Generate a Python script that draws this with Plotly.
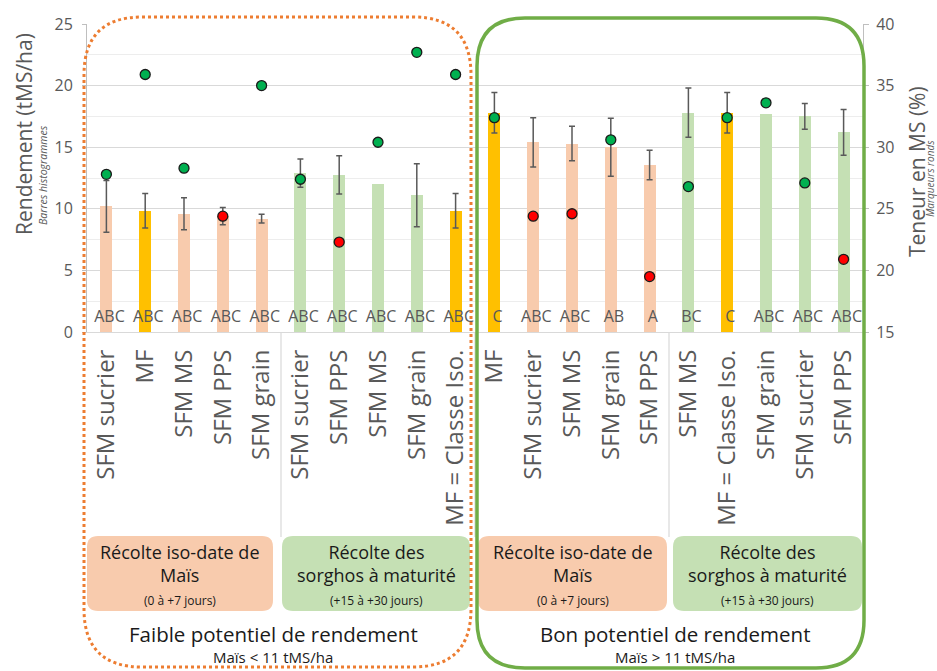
import plotly.graph_objects as go

# ---------------- data ----------------
categories = ["SFM sucrier", "MF", "SFM MS", "SFM PPS", "SFM grain",
              "SFM sucrier", "SFM PPS", "SFM MS", "SFM grain", "MF = Classe Iso.",
              "MF", "SFM sucrier", "SFM MS", "SFM grain", "SFM PPS",
              "SFM MS", "MF = Classe Iso.", "SFM grain", "SFM sucrier", "SFM PPS"]
harvest = ["iso"] * 5 + ["maturite"] * 5 + ["iso"] * 5 + ["maturite"] * 5
rendement = [10.2, 9.85, 9.6, 9.4, 9.2, 12.9, 12.75, 12.0, 11.1, 9.85,
             17.8, 15.4, 15.3, 15.0, 13.55, 17.8, 17.8, 17.7, 17.5, 16.2]
rendement_err = [2.1, 1.4, 1.3, 0.7, 0.35, 1.15, 1.55, None, 2.55, 1.4,
                 1.65, 2.0, 1.4, 2.35, 1.2, 2.0, 1.65, None, 1.05, 1.85]
teneur_ms = [27.8, 35.9, 28.3, 24.4, 35.0, 27.4, 22.3, 30.4, 37.7, 35.9,
             32.4, 24.4, 24.6, 30.6, 19.5, 26.8, 32.4, 33.6, 27.1, 20.9]
ms_rouge = [False, False, False, True, False, False, True, False, False, False,
            False, True, True, False, True, False, False, False, False, True]
lettres = ["ABC"] * 10 + ["C", "ABC", "ABC", "AB", "A", "BC", "C", "ABC", "ABC", "ABC"]

box_titles = ["Récolte iso-date de<br>Maïs", "Récolte des<br>sorghos à maturité"]
box_subs = ["(0 à +7 jours)", "(+15 à +30 jours)"]
potentiel = ["Faible potentiel de rendement", "Bon potentiel de rendement"]
potentiel_sub = ["Maïs < 11 tMS/ha", "Maïs > 11 tMS/ha"]

# ---------------- styles ----------------
FONT = "Open Sans"
GREY = "#595959"
DARK = "#1A1A1A"
C_PEACH = "#F8CBAD"
C_GOLD = "#FFC000"
C_GREEN = "#C5E0B4"

W, H = 937, 671
L, R, T, B = 87, 863, 24, 332


def px(x):
    return (x - L) / (R - L)


def py(y):
    return (B - y) / (B - T)


def rrect(x0, y0, x1, y1, r):
    pts = [f"M {px(x0 + r)},{py(y0)}",
           f"L {px(x1 - r)},{py(y0)}",
           f"Q {px(x1)},{py(y0)} {px(x1)},{py(y0 + r)}",
           f"L {px(x1)},{py(y1 - r)}",
           f"Q {px(x1)},{py(y1)} {px(x1 - r)},{py(y1)}",
           f"L {px(x0 + r)},{py(y1)}",
           f"Q {px(x0)},{py(y1)} {px(x0)},{py(y1 - r)}",
           f"L {px(x0)},{py(y0 + r)}",
           f"Q {px(x0)},{py(y0)} {px(x0 + r)},{py(y0)} Z"]
    return " ".join(pts)


xs = list(range(len(categories)))
bar_colors = []
for c, h in zip(categories, harvest):
    if c.startswith("MF"):
        bar_colors.append(C_GOLD)
    elif h == "iso":
        bar_colors.append(C_PEACH)
    else:
        bar_colors.append(C_GREEN)

fig = go.Figure()
fig.add_trace(go.Bar(
    x=xs, y=rendement, width=0.31, marker=dict(color=bar_colors, line=dict(width=0)),
    yaxis="y", showlegend=False, hoverinfo="skip"))

# error bars only where a value exists
ex = [x for x, e in zip(xs, rendement_err) if e is not None]
ey = [v for v, e in zip(rendement, rendement_err) if e is not None]
ee = [e for e in rendement_err if e is not None]
fig.add_trace(go.Scatter(
    x=ex, y=ey, mode="markers", marker=dict(size=1, opacity=0),
    error_y=dict(type="data", array=ee, symmetric=True, color=GREY, thickness=1.5, width=3),
    yaxis="y", showlegend=False, hoverinfo="skip"))

fig.add_trace(go.Scatter(
    x=[x + 0.08 for x in xs], y=[1.15] * len(xs), mode="text", text=lettres,
    textfont=dict(family=FONT, size=16, color=GREY), yaxis="y",
    showlegend=False, hoverinfo="skip"))

gx = [x for x, r in zip(xs, ms_rouge) if not r]
gy = [v for v, r in zip(teneur_ms, ms_rouge) if not r]
rx = [x for x, r in zip(xs, ms_rouge) if r]
ry = [v for v, r in zip(teneur_ms, ms_rouge) if r]
fig.add_trace(go.Scatter(x=gx, y=gy, mode="markers", yaxis="y2",
                         marker=dict(color="#00B050", size=10, line=dict(color=DARK, width=1.3)),
                         showlegend=False))
fig.add_trace(go.Scatter(x=rx, y=ry, mode="markers", yaxis="y2",
                         marker=dict(color="#FF0000", size=10, line=dict(color=DARK, width=1.3)),
                         showlegend=False))

shapes = []
for sx in [4.5, 9.5, 14.5]:
    shapes.append(dict(type="line", xref="x", yref="paper", x0=sx, x1=sx,
                       y0=0, y1=py(537), line=dict(color="#D9D9D9", width=1.2), layer="below"))
box_specs = [(87, 273, C_PEACH), (282, 470, C_GREEN), (478, 667, C_PEACH), (673, 862, C_GREEN)]
for x0, x1, col in box_specs:
    shapes.append(dict(type="path", xref="paper", yref="paper", path=rrect(x0, 536, x1, 611, 11),
                       fillcolor=col, line=dict(width=0), layer="below"))
shapes.append(dict(type="path", xref="paper", yref="paper", path=rrect(84, 17, 471, 667, 58),
                   line=dict(color="#ED7D31", width=3, dash="dot"), layer="above"))
shapes.append(dict(type="path", xref="paper", yref="paper", path=rrect(477, 18, 864, 668, 48),
                   line=dict(color="#70AD47", width=3.5), layer="above"))


def note(xp, yp, text, size, color, angle=0):
    return dict(x=px(xp), y=py(yp), xref="paper", yref="paper", text=text, textangle=angle,
                xanchor="center", yanchor="middle", showarrow=False,
                font=dict(family=FONT, size=size, color=color))


ann = [note(24, 134, "Rendement (tMS/ha)", 21, GREY, -90),
       note(43, 175, "<i>Barres histogrammes</i>", 10.5, GREY, -90),
       note(917, 172, "Teneur en MS (%)", 21, GREY, -90),
       note(930, 178, "<i>Marqueurs ronds</i>", 10, GREY, -90)]
for i, (x0, x1, col) in enumerate(box_specs):
    cx = (x0 + x1) / 2
    ann.append(note(cx, 563, box_titles[i % 2], 18, DARK))
    ann.append(note(cx, 600, box_subs[i % 2], 12, DARK))
for i, cx in enumerate([273, 675]):
    ann.append(note(cx, 634, potentiel[i], 20.5, DARK))
    ann.append(note(cx, 657, potentiel_sub[i], 15, DARK))

fig.update_layout(
    width=W, height=H,
    margin=dict(l=L, r=W - R, t=T, b=H - B, autoexpand=False),
    paper_bgcolor="white", plot_bgcolor="white",
    showlegend=False, bargap=0,
    font=dict(family=FONT, color=GREY),
    xaxis=dict(range=[-0.5, len(xs) - 0.5], tickmode="array", tickvals=xs, ticktext=categories,
               tickangle=-90, tickfont=dict(family=FONT, size=24, color=GREY),
               showline=True, linecolor="#D9D9D9", linewidth=1, ticks="", showgrid=False,
               zeroline=False, ticklabelstandoff=7, fixedrange=True, automargin=False),
    yaxis=dict(range=[0, 25], tick0=0, dtick=5, showgrid=True, gridcolor="#D9D9D9", gridwidth=1,
               minor=dict(dtick=2.5, showgrid=True, gridcolor="#EDEDED", gridwidth=1),
               ticks="outside", ticklen=4, tickcolor="#BFBFBF", showline=True, linecolor="#BFBFBF",
               tickfont=dict(family=FONT, size=16, color=GREY), zeroline=False,
               ticklabelstandoff=6, automargin=False),
    yaxis2=dict(range=[15, 40], tick0=15, dtick=5, overlaying="y", side="right", showgrid=False,
                ticks="outside", ticklen=5, tickcolor="#BFBFBF", showline=True, linecolor="#BFBFBF",
                tickfont=dict(family=FONT, size=16, color=GREY), zeroline=False,
                ticklabelstandoff=4, automargin=False),
    shapes=shapes, annotations=ann,
)

fig.write_html("out.html", config={"displayModeBar": False},
               post_script="document.body.style.margin='0';document.body.style.overflow='hidden';")
